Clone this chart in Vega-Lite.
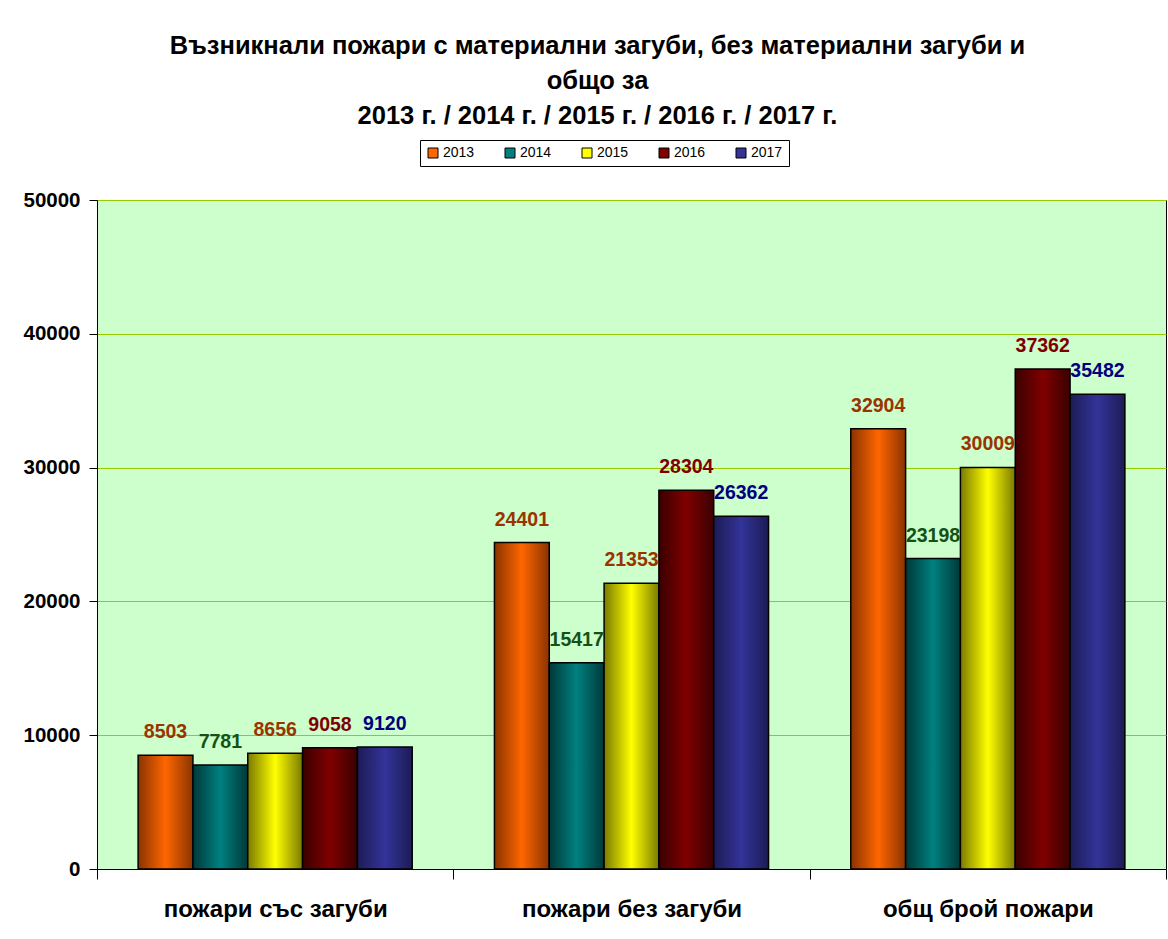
{
  "$schema": "https://vega.github.io/schema/vega-lite/v6.json",
  "width": 1069,
  "height": 669,
  "autosize": {"type": "none"},
  "padding": {"left": 97, "top": 200, "right": 2, "bottom": 70},
  "background": "white",
  "config": {
    "font": "Liberation Sans",
    "view": {"fill": "#CCFFCC", "stroke": "#000000", "strokeWidth": 1}
  },
  "title": {
    "text": ["Възникнали пожари с материални загуби, без материални загуби и", "общо за", "2013 г. / 2014 г. / 2015 г. / 2016 г. / 2017 г."],
    "fontSize": 25.5,
    "fontWeight": "bold",
    "lineHeight": 35,
    "color": "#000000",
    "anchor": "middle",
    "dx": -34,
    "offset": 10
  },
  "data": {
    "values": [
      {"cat": "пожари със загуби", "year": "2013", "value": 8503},
      {"cat": "пожари със загуби", "year": "2014", "value": 7781},
      {"cat": "пожари със загуби", "year": "2015", "value": 8656},
      {"cat": "пожари със загуби", "year": "2016", "value": 9058},
      {"cat": "пожари със загуби", "year": "2017", "value": 9120},
      {"cat": "пожари без загуби", "year": "2013", "value": 24401},
      {"cat": "пожари без загуби", "year": "2014", "value": 15417},
      {"cat": "пожари без загуби", "year": "2015", "value": 21353},
      {"cat": "пожари без загуби", "year": "2016", "value": 28304},
      {"cat": "пожари без загуби", "year": "2017", "value": 26362},
      {"cat": "общ брой пожари", "year": "2013", "value": 32904},
      {"cat": "общ брой пожари", "year": "2014", "value": 23198},
      {"cat": "общ брой пожари", "year": "2015", "value": 30009},
      {"cat": "общ брой пожари", "year": "2016", "value": 37362},
      {"cat": "общ брой пожари", "year": "2017", "value": 35482}
    ]
  },
  "encoding": {
    "x": {
      "field": "cat",
      "type": "nominal",
      "sort": null,
      "scale": {"domain": ["пожари със загуби", "пожари без загуби", "общ брой пожари"], "paddingInner": 0, "paddingOuter": 0},
      "axis": {
        "title": null,
        "labelAngle": 0,
        "labelFontSize": 24,
        "labelFontWeight": "bold",
        "labelColor": "#000000",
        "labelPadding": 18,
        "labelLimit": 0,
        "tickBand": "extent",
        "tickSize": 10,
        "tickColor": "#000000",
        "domainColor": "#000000"
      }
    },
    "xOffset": {"field": "year", "type": "nominal", "scale": {"domain": ["2013", "2014", "2015", "2016", "2017"], "paddingInner": 0, "paddingOuter": 0.75}},
    "y": {
      "field": "value",
      "type": "quantitative",
      "scale": {"domain": [0, 50000]},
      "axis": {
        "title": null,
        "values": [0, 10000, 20000, 30000, 40000, 50000],
        "format": "d",
        "labelFontSize": 20.5,
        "labelFontWeight": "bold",
        "labelColor": "#000000",
        "tickSize": 8,
        "tickColor": "#000000",
        "labelPadding": 9,
        "domainColor": "#000000",
        "grid": true,
        "gridColor": "#99CC00",
        "gridWidth": 1
      }
    }
  },
  "layer": [
    {
      "mark": {"type": "bar"},
      "encoding": {
        "fill": {
          "field": "year",
          "type": "nominal",
          "scale": {
            "domain": ["2013", "2014", "2015", "2016", "2017"],
            "range": ["#FF6600", "#008080", "#FFFF00", "#800000", "#333399"]
          },
          "legend": {
            "title": null,
            "orient": "none",
            "legendX": 323,
            "legendY": -60,
            "direction": "horizontal",
            "columns": 5,
            "columnPadding": 28,
            "symbolType": "square",
            "symbolSize": 100,
            "symbolStrokeColor": "#000000",
            "symbolStrokeWidth": 1,
            "labelFontSize": 14,
            "labelColor": "#000000",
            "labelOffset": 3,
            "strokeColor": "#000000",
            "padding": 6,
            "fillColor": "#FFFFFF"
          }
        }
      }
    },
    {
      "transform": [{"filter": "datum.year === '2013'"}],
      "mark": {"type": "bar", "stroke": "#000000", "strokeWidth": 1.5,
        "fill": {"gradient": "linear", "x1": 0, "x2": 1, "y1": 0, "y2": 0, "stops": [{"offset": 0, "color": "#8A3300"}, {"offset": 0.5, "color": "#FF6600"}, {"offset": 1, "color": "#8A3300"}]}}
    },
    {
      "transform": [{"filter": "datum.year === '2014'"}],
      "mark": {"type": "bar", "stroke": "#000000", "strokeWidth": 1.5,
        "fill": {"gradient": "linear", "x1": 0, "x2": 1, "y1": 0, "y2": 0, "stops": [{"offset": 0, "color": "#003838"}, {"offset": 0.5, "color": "#008080"}, {"offset": 1, "color": "#003838"}]}}
    },
    {
      "transform": [{"filter": "datum.year === '2015'"}],
      "mark": {"type": "bar", "stroke": "#000000", "strokeWidth": 1.5,
        "fill": {"gradient": "linear", "x1": 0, "x2": 1, "y1": 0, "y2": 0, "stops": [{"offset": 0, "color": "#7A7A00"}, {"offset": 0.5, "color": "#FFFF00"}, {"offset": 1, "color": "#7A7A00"}]}}
    },
    {
      "transform": [{"filter": "datum.year === '2016'"}],
      "mark": {"type": "bar", "stroke": "#000000", "strokeWidth": 1.5,
        "fill": {"gradient": "linear", "x1": 0, "x2": 1, "y1": 0, "y2": 0, "stops": [{"offset": 0, "color": "#3A0000"}, {"offset": 0.5, "color": "#800000"}, {"offset": 1, "color": "#3A0000"}]}}
    },
    {
      "transform": [{"filter": "datum.year === '2017'"}],
      "mark": {"type": "bar", "stroke": "#000000", "strokeWidth": 1.5,
        "fill": {"gradient": "linear", "x1": 0, "x2": 1, "y1": 0, "y2": 0, "stops": [{"offset": 0, "color": "#1C1C55"}, {"offset": 0.5, "color": "#333399"}, {"offset": 1, "color": "#1C1C55"}]}}
    },
    {
      "mark": {"type": "text", "fontSize": 19.5, "fontWeight": "bold", "baseline": "alphabetic", "dy": -17},
      "encoding": {
        "text": {"field": "value", "type": "quantitative", "format": "d"},
        "color": {
          "field": "year",
          "type": "nominal",
          "scale": {
            "domain": ["2013", "2014", "2015", "2016", "2017"],
            "range": ["#993300", "#145214", "#993300", "#800000", "#000080"]
          },
          "legend": null
        }
      }
    }
  ]
}
